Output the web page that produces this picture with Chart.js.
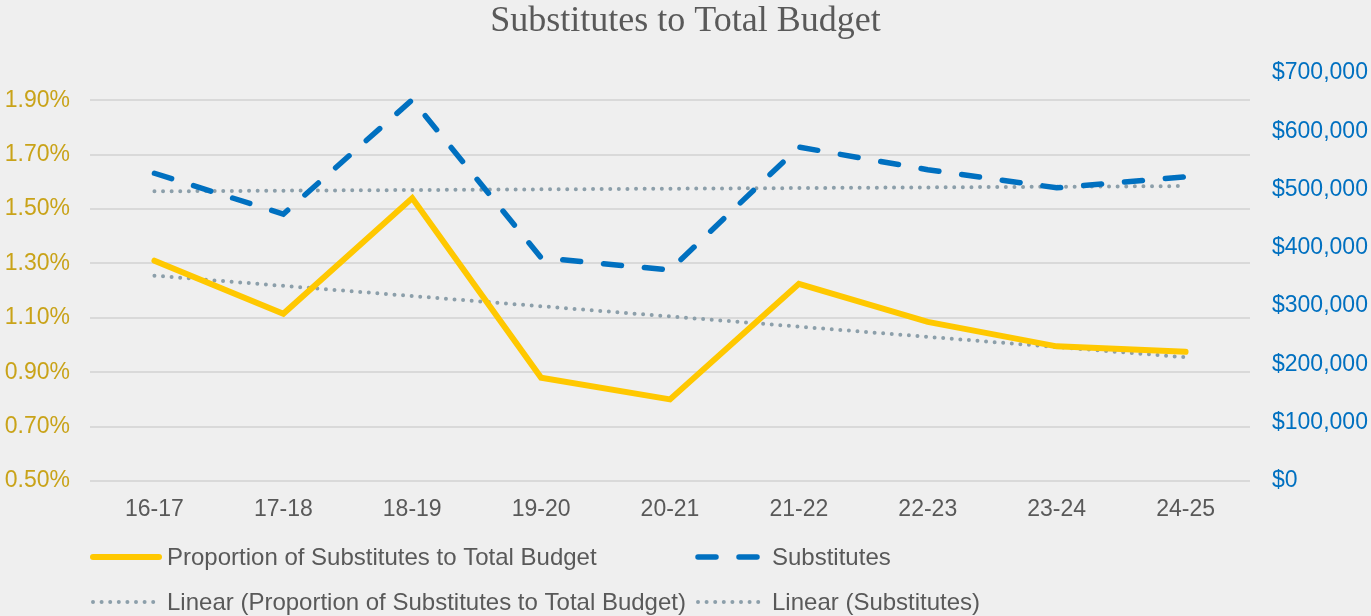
<!DOCTYPE html>
<html>
<head>
<meta charset="utf-8">
<script src="https://cdn.jsdelivr.net/npm/chart.js@4/dist/chart.umd.min.js"></script>
<style>
    html, body { margin: 0; padding: 0; background: #eeeeee; }
    #wrap { width: 1371px; height: 616px; }
</style>
</head>
<body>
<div id="wrap"><canvas id="budget-chart" width="1371" height="616"></canvas></div>
<script>
const years = ["16-17", "17-18", "18-19", "19-20", "20-21", "21-22", "22-23", "23-24", "24-25"];

// percent of total budget (left axis)
const proportion_values = [1.31, 1.115, 1.54, 0.88, 0.80, 1.225, 1.085, 0.995, 0.975];
// dollars (right axis)
const substitute_values = [528000, 458000, 654000, 383000, 362000, 573000, 534000, 503000, 522000];

// trendline ends, middle left open
const proportion_trend = [1.255, null, null, null, null, null, null, null, 0.955];
const substitute_trend = [497000, null, null, null, null, null, null, null, 506000];

const percent_ticks = [0.5, 0.7, 0.9, 1.1, 1.3, 1.5, 1.7, 1.9];
const dollar_ticks = [0, 100000, 200000, 300000, 400000, 500000, 600000, 700000];

const text_grey = "#595959";
const gold = "#FFC800";
const blue = "#0070C0";
const trend_grey = "#8C9FAA";

// legend is drawn by hand so the two columns line up like the original
const legendPlugin = {
    id: "columnLegend",
    afterDraw(chart) {
        const ctx = chart.ctx;
        const slots = [
            {x: 90, y: 557}, {x: 695, y: 557},
            {x: 90, y: 602}, {x: 695, y: 602}
        ];
        chart.data.datasets.forEach(function (ds, i) {
            const s = slots[i];
            ctx.save();
            ctx.strokeStyle = ds.borderColor;
            ctx.lineWidth = ds.borderWidth;
            ctx.lineCap = "round";
            ctx.setLineDash(ds.borderDash || []);
            ctx.beginPath();
            ctx.moveTo(s.x + 3, s.y);
            ctx.lineTo(s.x + 69, s.y);
            ctx.stroke();
            ctx.setLineDash([]);
            ctx.fillStyle = text_grey;
            ctx.font = "24px 'Liberation Sans', Arial, sans-serif";
            ctx.textBaseline = "middle";
            ctx.fillText(ds.label, s.x + 77, s.y + 1);
            ctx.restore();
        });
    }
};

const bgPlugin = {
    id: "bg",
    beforeDraw(chart) {
        const ctx = chart.ctx;
        ctx.save();
        ctx.fillStyle = "#efefef";
        ctx.fillRect(0, 0, chart.width, chart.height);
        ctx.restore();
    }
};

const config = {
    type: "line",
    data: {
        labels: years,
        datasets: [
            {
                label: "Proportion of Substitutes to Total Budget",
                data: proportion_values,
                yAxisID: "y",
                borderColor: gold,
                backgroundColor: gold,
                borderWidth: 6,
                pointRadius: 0,
                borderCapStyle: "round",
                order: 2
            },
            {
                label: "Substitutes",
                data: substitute_values,
                yAxisID: "y1",
                borderColor: blue,
                backgroundColor: blue,
                borderWidth: 5.5,
                borderDash: [18, 23],
                borderCapStyle: "round",
                pointRadius: 0,
                order: 1
            },
            {
                label: "Linear (Proportion of Substitutes to Total Budget)",
                data: proportion_trend,
                yAxisID: "y",
                spanGaps: true,
                borderColor: trend_grey,
                borderWidth: 4,
                borderDash: [0, 8.6],
                borderCapStyle: "round",
                pointRadius: 0,
                order: 3
            },
            {
                label: "Linear (Substitutes)",
                data: substitute_trend,
                yAxisID: "y1",
                spanGaps: true,
                borderColor: trend_grey,
                borderWidth: 4,
                borderDash: [0, 8.6],
                borderCapStyle: "round",
                pointRadius: 0,
                order: 3
            }
        ]
    },
    options: {
        responsive: false,
        animation: false,
        layout: { padding: 0 },
        plugins: {
            legend: { display: false },
            tooltip: { enabled: false },
            title: {
                display: true,
                text: "Substitutes to Total Budget",
                color: text_grey,
                font: { family: "'Liberation Serif', 'Times New Roman', serif", size: 36, weight: "normal", lineHeight: 1 },
                padding: { top: 4, bottom: 33 }
            }
        },
        scales: {
            x: {
                offset: true,
                grid: { display: false },
                border: { display: false },
                ticks: {
                    color: text_grey,
                    font: { family: "'Liberation Sans', Arial, sans-serif", size: 23 },
                    padding: 7,
                    maxRotation: 0
                },
                afterFit(scale) { scale.height = 135; }
            },
            y: {
                position: "left",
                min: 0.5,
                max: 2.0,
                afterBuildTicks(scale) {
                    scale.ticks = percent_ticks.map(v => ({value: v}));
                },
                grid: { color: "#d9d9d9", lineWidth: 2, drawTicks: false },
                border: { display: false },
                ticks: {
                    color: "#C9A319",
                    font: { family: "'Liberation Sans', Arial, sans-serif", size: 23 },
                    padding: 20,
                    callback: v => v.toFixed(2) + "%"
                },
                afterFit(scale) { scale.width = 90; }
            },
            y1: {
                position: "right",
                min: 0,
                max: 700000,
                afterBuildTicks(scale) {
                    scale.ticks = dollar_ticks.map(v => ({value: v}));
                },
                grid: { display: false, drawTicks: false },
                border: { display: false },
                ticks: {
                    color: blue,
                    font: { family: "'Liberation Sans', Arial, sans-serif", size: 23 },
                    padding: 22,
                    callback: v => "$" + v.toLocaleString("en-US")
                },
                afterFit(scale) { scale.width = 121; }
            }
        }
    },
    plugins: [bgPlugin, legendPlugin]
};

new Chart(document.getElementById("budget-chart").getContext("2d"), config);
</script>
</body>
</html>
